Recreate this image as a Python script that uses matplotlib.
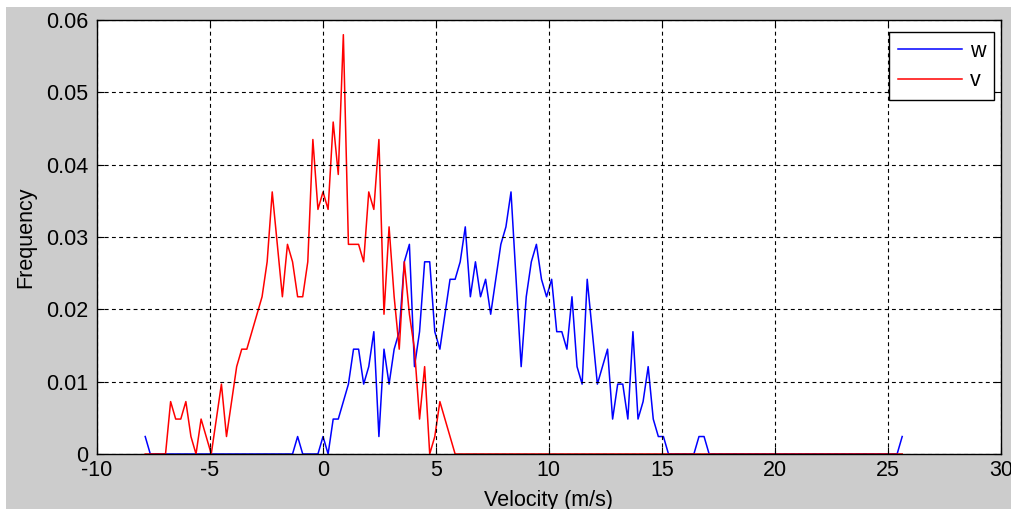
import numpy as np
import matplotlib.pyplot as plt
from matplotlib.patches import Rectangle

plt.rcParams["font.family"] = ["Liberation Sans", "DejaVu Sans"]

# histogram bins shared by both velocity components
bin_first, bin_last, n_bins = -7.85, 25.63, 150
n_samples = 414

# counts per bin, 15 bins per row
w_counts = [
    1, 0, 0, 0, 0, 0, 0, 0, 0, 0, 0, 0, 0, 0, 0,
    0, 0, 0, 0, 0, 0, 0, 0, 0, 0, 0, 0, 0, 0, 0,
    1, 0, 0, 0, 0, 1, 0, 2, 2, 3, 4, 6, 6, 4, 5,
    7, 1, 6, 4, 6, 7, 11, 12, 5, 7, 11, 11, 7, 6, 8,
    10, 10, 11, 13, 9, 11, 9, 10, 8, 10, 12, 13, 15, 10, 5,
    9, 11, 12, 10, 9, 10, 7, 7, 6, 9, 5, 4, 10, 7, 4,
    5, 6, 2, 4, 4, 2, 7, 2, 3, 5, 2, 1, 1, 0, 0,
    0, 0, 0, 0, 1, 1, 0, 0, 0, 0, 0, 0, 0, 0, 0,
    0, 0, 0, 0, 0, 0, 0, 0, 0, 0, 0, 0, 0, 0, 0,
    0, 0, 0, 0, 0, 0, 0, 0, 0, 0, 0, 0, 0, 0, 1,
]
v_counts = [
    0, 0, 0, 0, 0, 3, 2, 2, 3, 1, 0, 2, 1, 0, 2,
    4, 1, 3, 5, 6, 6, 7, 8, 9, 11, 15, 12, 9, 12, 11,
    9, 9, 11, 18, 14, 15, 14, 19, 16, 24, 12, 12, 12, 11, 15,
    14, 18, 8, 13, 9, 6, 11, 8, 6, 2, 5, 0, 1, 3, 2,
    1, 0, 0, 0, 0, 0, 0, 0, 0, 0, 0, 0, 0, 0, 0,
    0, 0, 0, 0, 0, 0, 0, 0, 0, 0, 0, 0, 0, 0, 0,
    0, 0, 0, 0, 0, 0, 0, 0, 0, 0, 0, 0, 0, 0, 0,
    0, 0, 0, 0, 0, 0, 0, 0, 0, 0, 0, 0, 0, 0, 0,
    0, 0, 0, 0, 0, 0, 0, 0, 0, 0, 0, 0, 0, 0, 0,
    0, 0, 0, 0, 0, 0, 0, 0, 0, 0, 0, 0, 0, 0, 0,
]

x_ticks = [-10, -5, 0, 5, 10, 15, 20, 25, 30]
y_ticks = [0, 0.01, 0.02, 0.03, 0.04, 0.05, 0.06]

centres = np.linspace(bin_first, bin_last, n_bins)
w_freq = np.array(w_counts) / n_samples
v_freq = np.array(v_counts) / n_samples

W, H = 1011, 509
fig = plt.figure(figsize=(W / 100, H / 100), dpi=100, facecolor="white")
# grey figure panel behind the axes
fig.patches.append(Rectangle((6 / W, 0), 1, 1 - 7 / H, transform=fig.transFigure,
                             facecolor="#cccccc", edgecolor="none", zorder=-10))

ax = fig.add_axes([96.6 / W, 55 / H, 904.4 / W, 434 / H])
ax.set_zorder(5)
ax.set_facecolor("white")

ax.plot(centres, w_freq, color="#0000ff", lw=1.1, label="w")
ax.plot(centres, v_freq, color="#ff0000", lw=1.1, label="v")

ax.set_xlim(-10, 30)
ax.set_ylim(0, 0.06)
ax.set_xticks(x_ticks)
ax.set_xticklabels([f"{t:g}" for t in x_ticks])
ax.set_yticks(y_ticks)
ax.set_yticklabels([f"{t:g}" for t in y_ticks])

fs = 15.5
ax.tick_params(direction="in", length=5, width=0.8, top=True, right=True,
               labelsize=fs, colors="black")
ax.tick_params(axis="y", pad=6)
ax.tick_params(axis="x", pad=4)
ax.grid(True, color="black", linestyle=(0, (3.5, 3)), linewidth=0.8)
ax.set_axisbelow(False)
for s in ax.spines.values():
    s.set_color("black")
    s.set_linewidth(1.0)

ax.set_xlabel("Velocity (m/s)", fontsize=fs, labelpad=7)
ax.set_ylabel("Frequency", fontsize=fs, labelpad=7)

leg = ax.legend(loc="upper right", bbox_to_anchor=(0.992, 0.972), borderaxespad=0,
                fontsize=fs, frameon=True, fancybox=False, framealpha=1,
                edgecolor="black", handlelength=3.0, handletextpad=0.35,
                borderpad=0.4, labelspacing=0.4)
leg.get_frame().set_linewidth(1.0)

fig.savefig("out.png", dpi=100, facecolor=fig.get_facecolor())
